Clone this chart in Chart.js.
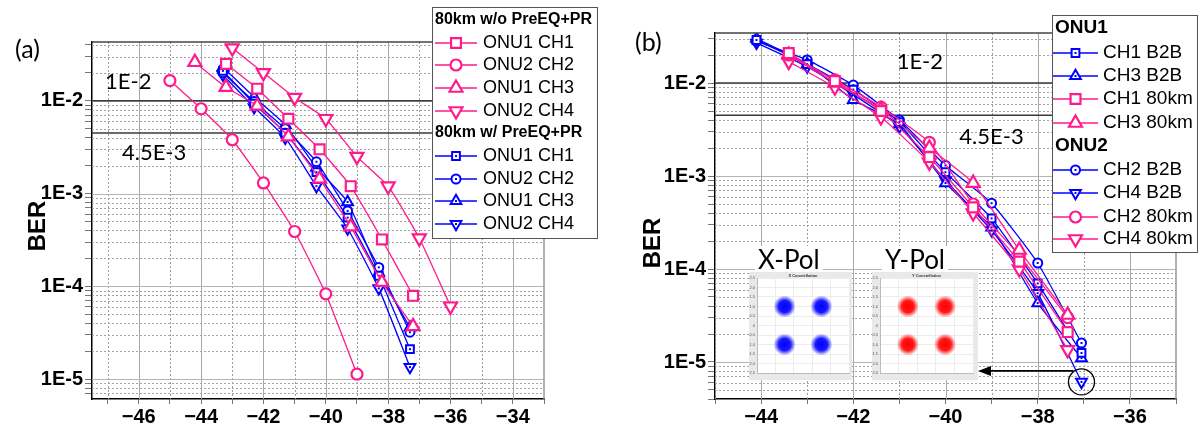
<!DOCTYPE html>
<html>
<head>
<meta charset="utf-8">
<script src="https://cdn.jsdelivr.net/npm/chart.js@4.4.0/dist/chart.umd.min.js"></script>
<style>
  body { margin: 0; background: #fff; width: 1201px; height: 430px; overflow: hidden; position: relative; }
  .wrap { position: absolute; top: 0; height: 430px; }
  .tag { position: absolute; font-family: Lato, sans-serif; font-size: 25px; line-height: 25px; color: #000; }
  .ber { position: absolute; font-family: Arial, "Liberation Sans", sans-serif; font-weight: bold; font-size: 24px;
         transform: translate(-50%, -50%) rotate(-90deg); color: #000; }
  .inset { position: absolute; background: #e9e9e9; }
  .pol { position: absolute; font-family: Lato, sans-serif; font-size: 26px; line-height: 26px; background: #fff; padding: 0 3px; color: #000; }
</style>
</head>
<body>
<div class="wrap" style="left:0;width:600px"><canvas id="chartA" width="600" height="430"></canvas></div>
<div class="wrap" style="left:600px;width:601px"><canvas id="chartB" width="601" height="430"></canvas></div>
<div class="tag" style="left:15px;top:36px">(a)</div>
<div class="tag" style="left:635px;top:29px">(b)</div>
<div class="ber" style="left:37px;top:226px">BER</div>
<div class="ber" style="left:652px;top:243px">BER</div>
<div class="inset" style="left:749px;top:272px;width:103px;height:108px"><canvas id="insX" width="103" height="108"></canvas></div>
<div class="inset" style="left:872px;top:272px;width:106px;height:108px"><canvas id="insY" width="106" height="108"></canvas></div>
<div class="pol" style="left:755px;top:246px">X-Pol</div>
<div class="pol" style="left:882px;top:246px">Y-Pol</div>

<script>
// ---------- panel (a): 80km with / without PreEQ+PR ----------
const aPinkCh1X = [-43.2, -42.2, -41.2, -40.2, -39.2, -38.2, -37.2];
const aPinkCh1Y = [2.5e-2, 1.35e-2, 6.4e-3, 3.0e-3, 1.2e-3, 3.2e-4, 7.9e-5];
const aPinkCh2X = [-45, -44, -43, -42, -41, -40, -39];
const aPinkCh2Y = [1.65e-2, 8.2e-3, 3.8e-3, 1.3e-3, 3.9e-4, 8.3e-5, 1.13e-5];
const aPinkCh3X = [-44.2, -43.2, -42.2, -41.2, -40.2, -39.2, -38.2, -37.2];
const aPinkCh3Y = [2.6e-2, 1.4e-2, 8.8e-3, 4.1e-3, 1.44e-3, 4.4e-4, 1.11e-4, 3.7e-5];
const aPinkCh4X = [-43, -42, -41, -40, -39, -38, -37, -36];
const aPinkCh4Y = [3.7e-2, 2.0e-2, 1.08e-2, 6.4e-3, 2.5e-3, 1.2e-3, 3.3e-4, 6.1e-5];
const aBlueX = [-43.3, -42.3, -41.3, -40.3, -39.3, -38.3, -37.3];
const aBlueCh1Y = [2.1e-2, 9.3e-3, 4.5e-3, 1.7e-3, 5.5e-4, 1.3e-4, 2.1e-5];
const aBlueCh2Y = [2.0e-2, 9.8e-3, 5.0e-3, 2.2e-3, 6.5e-4, 1.6e-4, 3.2e-5];
const aBlueCh3Y = [2.3e-2, 1.1e-2, 5.5e-3, 1.9e-3, 8.1e-4, 1.4e-4, 3.6e-5];
const aBlueCh4Y = [1.9e-2, 8.5e-3, 4.0e-3, 1.2e-3, 4.2e-4, 9.5e-5, 1.35e-5];
const aGroupTitles = ["80km w/o PreEQ+PR", "80km w/ PreEQ+PR"];
const aXLabels = [-46, -44, -42, -40, -38, -36, -34];

// ---------- panel (b): B2B vs 80km ----------
const bBlueX = [-44.1, -43.0, -42.0, -41.0, -40.0, -39.0, -38.0, -37.05];
const bB2bCh1Y = [2.9e-2, 1.6e-2, 8.5e-3, 3.8e-3, 1.1e-3, 3.5e-4, 7.0e-5, 1.25e-5];
const bB2bCh3Y = [3.0e-2, 1.6e-2, 6.6e-3, 3.6e-3, 8.4e-4, 2.8e-4, 4.3e-5, 1.1e-5];
const bB2bCh2Y = [2.8e-2, 1.77e-2, 9.5e-3, 4.0e-3, 1.3e-3, 5.1e-4, 1.16e-4, 1.6e-5];
const bB2bCh4Y = [2.7e-2, 1.5e-2, 7.5e-3, 3.4e-3, 9.0e-4, 2.6e-4, 5.5e-5, 6.1e-6];
const bPinkX = [-43.4, -42.4, -41.4, -40.35, -39.4, -38.4, -37.35];
const b80Ch1Y = [2.1e-2, 1.05e-2, 5.0e-3, 1.6e-3, 4.6e-4, 1.2e-4, 2.1e-5];
const b80Ch3Y = [2.0e-2, 1.0e-2, 5.2e-3, 2.0e-3, 8.4e-4, 1.6e-4, 3.2e-5];
const b80Ch2Y = [2.0e-2, 1.08e-2, 5.5e-3, 2.3e-3, 5.0e-4, 1.4e-4, 3.0e-5];
const b80Ch4Y = [1.7e-2, 9.0e-3, 4.3e-3, 1.4e-3, 4.0e-4, 1.0e-4, 1.35e-5];
const bGroupTitles = ["ONU1", "ONU2"];
const bXLabels = [-44, -42, -40, -38, -36];

// shared: BER axis + FEC limits
const berDecades = [1e-5, 1e-4, 1e-3, 1e-2];
const berLabels = ["1E-5", "1E-4", "1E-3", "1E-2"];
const fecLimits = [1e-2, 4.5e-3];
const fecLabels = ["1E-2", "4.5E-3"];

// constellation centres for the insets
const constX = [-1, 1, -1, 1];
const constY = [1, 1, -1, -1];

const PINK = "#ff1a8c";
const BLUE = "#0000ff";
const SANS = 'Arial, "Liberation Sans", sans-serif';

const pinkSq = { shape: "rect", r: 7, bw: 2.2 };
const pinkCi = { shape: "circle", r: 5.5, bw: 2.2 };
const pinkTr = { shape: "triangle", r: 7.5, bw: 2.2 };
const pinkDn = { shape: "triangle", r: 7.5, bw: 2.2, rot: 180 };
const blueSq = { shape: "rect", r: 5.5, bw: 2 };
const blueCi = { shape: "circle", r: 4.5, bw: 2 };
const blueTr = { shape: "triangle", r: 6.2, bw: 2 };
const blueDn = { shape: "triangle", r: 6.2, bw: 2, rot: 180 };

function series(label, xs, ys, color, st, extra) {
  return Object.assign({
    label: label,
    data: xs.map((x, i) => ({ x: x, y: ys[i] })),
    borderColor: color,
    backgroundColor: "#fff",
    pointBorderColor: color,
    pointBackgroundColor: "#fff",
    pointStyle: st.shape,
    pointRotation: st.rot || 0,
    pointRadius: st.r,
    pointBorderWidth: st.bw,
    borderWidth: 1.3,
    tension: 0.15,
    fill: false
  }, extra || {});
}

function intRange(a, b) {
  const out = [];
  for (let v = Math.ceil(a); v <= Math.floor(b); v++) out.push(v);
  return out;
}

function logMinorTicks(min, max) {
  const out = [];
  for (let e = Math.floor(Math.log10(min)); e <= Math.ceil(Math.log10(max)); e++) {
    for (let m = 1; m <= 9; m++) {
      const v = m * Math.pow(10, e);
      if (v >= min * 0.9999 && v <= max * 1.0001) out.push(v);
    }
  }
  return out;
}

function isDecade(v) {
  const l = Math.log10(v);
  return Math.abs(l - Math.round(l)) < 1e-6;
}

// gridlines, FEC lines, FEC texts (under the data)
const backdrop = {
  id: "backdrop",
  beforeDatasetsDraw(chart, args, opts) {
    const { ctx, chartArea: a, scales: { x, y } } = chart;
    ctx.save();
    ctx.beginPath();
    ctx.rect(a.left, a.top, a.right - a.left, a.bottom - a.top);
    ctx.clip();
    ctx.lineWidth = 1;
    x.ticks.forEach(t => {
      const px = Math.round(x.getPixelForValue(t.value)) + 0.5;
      const major = t.value % 2 === 0;
      ctx.strokeStyle = major ? "#a8a8a8" : "#9c9c9c";
      ctx.setLineDash(major ? [] : [2, 2]);
      ctx.beginPath(); ctx.moveTo(px, a.top); ctx.lineTo(px, a.bottom); ctx.stroke();
    });
    y.ticks.forEach(t => {
      const py = Math.round(y.getPixelForValue(t.value)) + 0.5;
      const major = isDecade(t.value);
      ctx.strokeStyle = major ? "#b4b4b4" : "#a4a4a4";
      ctx.setLineDash(major ? [] : [2, 2]);
      ctx.beginPath(); ctx.moveTo(a.left, py); ctx.lineTo(a.right, py); ctx.stroke();
    });
    ctx.setLineDash([]);
    ctx.strokeStyle = "#3a3a3a";
    ctx.lineWidth = 1.6;
    fecLimits.forEach(v => {
      const py = y.getPixelForValue(v);
      ctx.beginPath(); ctx.moveTo(a.left, py); ctx.lineTo(a.right, py); ctx.stroke();
    });
    ctx.fillStyle = "#000";
    ctx.font = "22px Lato, sans-serif";
    ctx.textBaseline = "middle";
    fecLabels.forEach((txt, i) => {
      ctx.fillText(txt, x.getPixelForValue(opts.textX[i]), y.getPixelForValue(opts.textY[i]));
    });
    ctx.restore();
  }
};

// small dot in the centre of the blue markers
const innerDot = {
  id: "innerDot",
  afterDatasetDraw(chart, args) {
    const ds = chart.data.datasets[args.index];
    if (!ds.innerDot) return;
    const ctx = chart.ctx;
    ctx.save();
    ctx.fillStyle = ds.borderColor;
    args.meta.data.forEach(pt => ctx.fillRect(pt.x - 1, pt.y - 1, 2, 2));
    ctx.restore();
  }
};

// top / right frame
const frame = {
  id: "frame",
  afterDatasetsDraw(chart) {
    const { ctx, chartArea: a } = chart;
    ctx.save();
    ctx.lineWidth = 1.5;
    ctx.strokeStyle = "#444";
    ctx.beginPath(); ctx.moveTo(a.left, a.top); ctx.lineTo(a.right, a.top); ctx.stroke();
    ctx.strokeStyle = "#999";
    ctx.beginPath(); ctx.moveTo(a.right, a.top); ctx.lineTo(a.right, a.bottom); ctx.stroke();
    ctx.restore();
  }
};

// grouped legend box
const groupLegend = {
  id: "groupLegend",
  afterDraw(chart, args, o) {
    const ctx = chart.ctx;
    ctx.save();
    ctx.fillStyle = "#fff";
    ctx.fillRect(o.box[0], o.box[1], o.box[2], o.box[3]);
    ctx.strokeStyle = "#555";
    ctx.lineWidth = 1;
    ctx.strokeRect(o.box[0] + 0.5, o.box[1] + 0.5, o.box[2], o.box[3]);
    ctx.textBaseline = "middle";
    o.rows.forEach((row, k) => {
      const ry = o.rowY[k];
      if (typeof row === "string") {
        ctx.font = o.headFont;
        ctx.fillStyle = "#000";
        ctx.fillText(row, o.box[0] + 3, ry);
        return;
      }
      const ds = chart.data.datasets[row];
      ctx.strokeStyle = ds.borderColor;
      ctx.lineWidth = 1.5;
      ctx.beginPath(); ctx.moveTo(o.line[0], ry); ctx.lineTo(o.line[1], ry); ctx.stroke();
      const mx = (o.line[0] + o.line[1]) / 2;
      ctx.fillStyle = "#fff";
      ctx.lineWidth = ds.pointBorderWidth;
      Chart.helpers.drawPoint(ctx, {
        pointStyle: ds.pointStyle, rotation: ds.pointRotation,
        radius: ds.pointRadius, borderWidth: ds.pointBorderWidth
      }, mx, ry);
      if (ds.innerDot) {
        ctx.fillStyle = ds.borderColor;
        ctx.fillRect(mx - 1, ry - 1, 2, 2);
      }
      ctx.fillStyle = "#000";
      ctx.font = o.textFont;
      ctx.fillText(ds.label, o.textX, ry);
    });
    ctx.restore();
  }
};

// circle around the lowest point + arrow to the inset
const callout = {
  id: "callout",
  afterDatasetsDraw(chart, args, o) {
    const i = chart.data.datasets.findIndex(d => d.highlightLast);
    if (i < 0) return;
    const pts = chart.getDatasetMeta(i).data;
    const p = pts[pts.length - 1];
    const ctx = chart.ctx;
    ctx.save();
    ctx.strokeStyle = "#000";
    ctx.lineWidth = 1.3;
    ctx.beginPath(); ctx.arc(p.x, p.y, 13, 0, Math.PI * 2); ctx.stroke();
    const ay = p.y - 11;
    ctx.lineWidth = 1.8;
    ctx.beginPath(); ctx.moveTo(p.x - 8, ay); ctx.lineTo(o.tipX + 10, ay); ctx.stroke();
    ctx.fillStyle = "#000";
    ctx.beginPath(); ctx.moveTo(o.tipX, ay); ctx.lineTo(o.tipX + 13, ay - 5); ctx.lineTo(o.tipX + 13, ay + 5); ctx.closePath(); ctx.fill();
    ctx.restore();
  }
};

function panelOptions(cfg) {
  return {
    responsive: false,
    animation: false,
    events: [],
    layout: { padding: { left: 0, top: cfg.top, right: cfg.right, bottom: 0 } },
    plugins: {
      legend: { display: false },
      tooltip: { enabled: false },
      backdrop: { textX: cfg.fecTextX, textY: cfg.fecTextY },
      groupLegend: cfg.legend,
      callout: cfg.callout || {}
    },
    scales: {
      x: {
        type: "linear",
        min: cfg.xMin,
        max: cfg.xMax,
        afterBuildTicks: s => { s.ticks = intRange(cfg.xMin, cfg.xMax).map(v => ({ value: v })); },
        afterFit: s => { s.height = 31; },
        ticks: {
          autoSkip: false, maxRotation: 0, minRotation: 0, padding: 1, color: "#000",
          font: { family: SANS, size: 20, weight: "bold" },
          callback: v => cfg.xLabels.includes(v) ? "\u2212" + Math.abs(v) : ""
        },
        grid: { drawOnChartArea: false, tickLength: 5, tickColor: "#777" },
        border: { color: "#000", width: 1.5 }
      },
      y: {
        type: "logarithmic",
        min: cfg.yMin,
        max: cfg.yMax,
        afterBuildTicks: s => { s.ticks = logMinorTicks(cfg.yMin, cfg.yMax).map(v => ({ value: v })); },
        afterFit: s => { s.width = cfg.yWidth; },
        ticks: {
          autoSkip: false, padding: 2, color: "#000",
          font: { family: SANS, size: 20, weight: "bold" },
          callback: v => {
            const k = berDecades.findIndex(d => Math.abs(d - v) / d < 1e-6);
            return k >= 0 ? berLabels[k] : "";
          }
        },
        grid: { drawOnChartArea: false, tickLength: 7, tickColor: "#777" },
        border: { color: "#000", width: 1.5 }
      }
    }
  };
}

// ---------- chart (a) ----------
new Chart(document.getElementById("chartA"), {
  type: "line",
  data: {
    datasets: [
      series("ONU1 CH1", aPinkCh1X, aPinkCh1Y, PINK, pinkSq, { order: 0 }),
      series("ONU2 CH2", aPinkCh2X, aPinkCh2Y, PINK, pinkCi, { order: 0 }),
      series("ONU1 CH3", aPinkCh3X, aPinkCh3Y, PINK, pinkTr, { order: 0 }),
      series("ONU2 CH4", aPinkCh4X, aPinkCh4Y, PINK, pinkDn, { order: 0 }),
      series("ONU1 CH1", aBlueX, aBlueCh1Y, BLUE, blueSq, { order: 1, innerDot: true }),
      series("ONU2 CH2", aBlueX, aBlueCh2Y, BLUE, blueCi, { order: 1, innerDot: true }),
      series("ONU1 CH3", aBlueX, aBlueCh3Y, BLUE, blueTr, { order: 1, innerDot: true }),
      series("ONU2 CH4", aBlueX, aBlueCh4Y, BLUE, blueDn, { order: 1, innerDot: true })
    ]
  },
  options: panelOptions({
    top: 42, right: 56, yWidth: 92,
    xMin: -47.5, xMax: -33, xLabels: aXLabels,
    yMin: 6.1e-6, yMax: 4.3e-2,
    fecTextX: [-47.08, -46.54], fecTextY: [1.6e-2, 2.75e-3],
    legend: {
      box: [432, 7, 165, 231],
      rows: [aGroupTitles[0], 0, 1, 2, 3, aGroupTitles[1], 4, 5, 6, 7],
      rowY: [20, 43, 65, 88, 111, 133, 156, 179, 201, 224],
      line: [435, 477], textX: 483,
      headFont: "bold 16px " + SANS, textFont: "18px " + SANS
    }
  }),
  plugins: [backdrop, innerDot, frame, groupLegend]
});

// ---------- chart (b) ----------
new Chart(document.getElementById("chartB"), {
  type: "line",
  data: {
    datasets: [
      series("CH1 80km", bPinkX, b80Ch1Y, PINK, pinkSq, { order: 0 }),
      series("CH3 80km", bPinkX, b80Ch3Y, PINK, pinkTr, { order: 0 }),
      series("CH2 80km", bPinkX, b80Ch2Y, PINK, pinkCi, { order: 0 }),
      series("CH4 80km", bPinkX, b80Ch4Y, PINK, pinkDn, { order: 0 }),
      series("CH1 B2B", bBlueX, bB2bCh1Y, BLUE, blueSq, { order: 1, innerDot: true }),
      series("CH3 B2B", bBlueX, bB2bCh3Y, BLUE, blueTr, { order: 1, innerDot: true }),
      series("CH2 B2B", bBlueX, bB2bCh2Y, BLUE, blueCi, { order: 1, innerDot: true }),
      series("CH4 B2B", bBlueX, bB2bCh4Y, BLUE, blueDn, { order: 1, innerDot: true, highlightLast: true })
    ]
  },
  options: panelOptions({
    top: 33, right: 25, yWidth: 115,
    xMin: -45, xMax: -35, xLabels: bXLabels,
    yMin: 4.0e-6, yMax: 3.45e-2,
    fecTextX: [-41.06, -39.7], fecTextY: [1.68e-2, 2.63e-3],
    legend: {
      box: [452, 15, 145, 237],
      rows: [bGroupTitles[0], 4, 5, 0, 1, bGroupTitles[1], 6, 7, 2, 3],
      rowY: [28, 53, 76, 99, 123, 146, 170, 193, 217, 239],
      line: [453, 498], textX: 503,
      headFont: "bold 19px " + SANS, textFont: "19px " + SANS
    },
    callout: { tipX: 378 }
  }),
  plugins: [backdrop, innerDot, frame, groupLegend, callout]
});

// ---------- constellation insets ----------
const blobs = {
  id: "blobs",
  beforeDraw(chart, args, o) {
    const { ctx, chartArea: a } = chart;
    ctx.save();
    ctx.fillStyle = "#fff";
    ctx.fillRect(a.left, a.top, a.right - a.left, a.bottom - a.top);
    ctx.fillStyle = "#333";
    ctx.font = "bold 4px " + SANS;
    ctx.textAlign = "center";
    ctx.fillText(o.title, (a.left + a.right) / 2, a.top - 1.5);
    ctx.restore();
  },
  afterDatasetsDraw(chart, args, o) {
    const ctx = chart.ctx;
    ctx.save();
    chart.getDatasetMeta(0).data.forEach(p => {
      const g = ctx.createRadialGradient(p.x, p.y, 0, p.x, p.y, 11);
      g.addColorStop(0, "rgba(" + o.rgb + ",1)");
      g.addColorStop(0.55, "rgba(" + o.rgb + ",0.9)");
      g.addColorStop(0.8, "rgba(" + o.rgb + ",0.4)");
      g.addColorStop(1, "rgba(" + o.rgb + ",0)");
      ctx.fillStyle = g;
      ctx.beginPath(); ctx.arc(p.x, p.y, 11, 0, Math.PI * 2); ctx.fill();
    });
    ctx.restore();
  }
};

function insetChart(id, title, rgb, padRight) {
  new Chart(document.getElementById(id), {
    type: "scatter",
    data: { datasets: [{ data: constX.map((x, i) => ({ x: x, y: constY[i] })), pointRadius: 0 }] },
    options: {
      responsive: false, animation: false, events: [],
      layout: { padding: { top: 6, right: padRight, left: 0, bottom: 0 } },
      plugins: { legend: { display: false }, tooltip: { enabled: false }, blobs: { title: title, rgb: rgb } },
      scales: {
        x: {
          min: -2.5, max: 2.5,
          afterFit: s => { s.height = 7; },
          ticks: { stepSize: 1, padding: 1, color: "#555", font: { size: 4 }, maxRotation: 0,
                   callback: v => Number.isInteger(v) ? v : "" },
          grid: { color: "#ececec", tickLength: 1 },
          border: { color: "#bbb" }
        },
        y: {
          min: -2.5, max: 2.5,
          afterFit: s => { s.width = 8; },
          ticks: { stepSize: 0.5, padding: 1, color: "#555", font: { size: 4 }, autoSkip: false },
          grid: { color: "#ececec", tickLength: 1 },
          border: { color: "#bbb" }
        }
      }
    },
    plugins: [blobs]
  });
}

insetChart("insX", "X Constellation", "0,0,255", 3);
insetChart("insY", "Y Constellation", "255,0,0", 5);
</script>
</body>
</html>
